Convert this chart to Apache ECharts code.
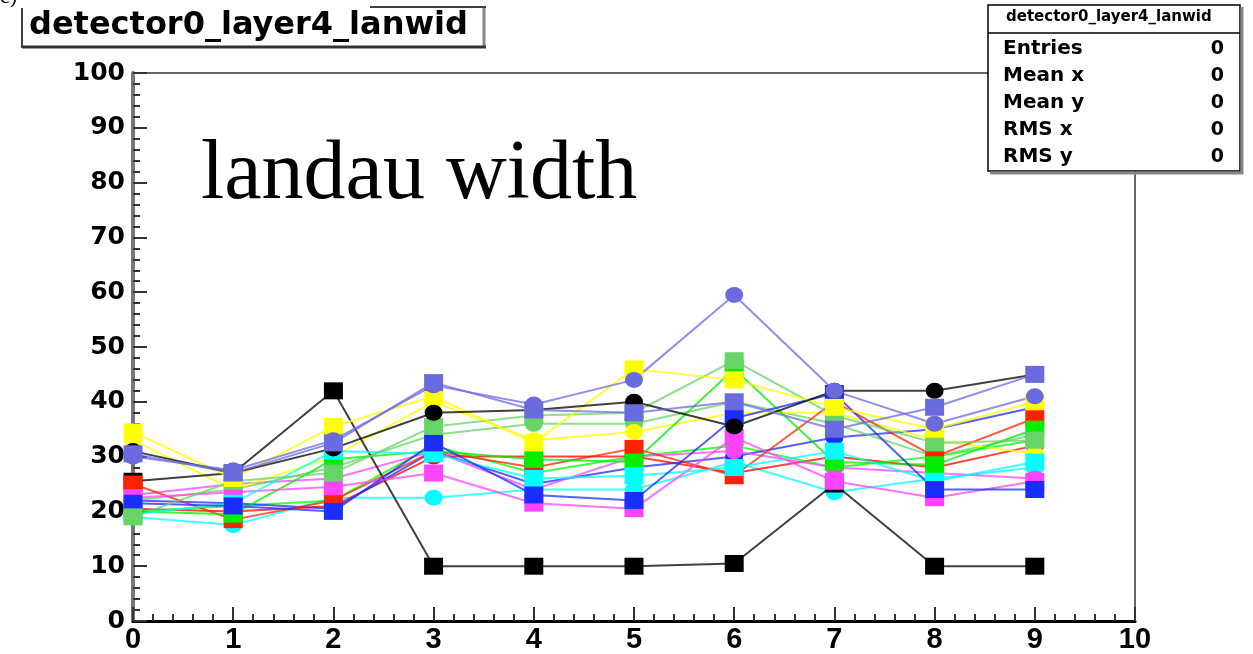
<!DOCTYPE html>
<html>
<head>
<meta charset="utf-8">
<script src="https://cdn.jsdelivr.net/npm/echarts@6/dist/echarts.min.js"></script>
<style>
html,body{margin:0;padding:0;background:#fff;}
#chart{width:1253px;height:654px;}
</style>
</head>
<body>
<div id="chart"></div>
<script>
// ---- data ----
const xValues = [0, 1, 2, 3, 4, 5, 6, 7, 8, 9];
const blackSquare   = [25.5, 27, 42, 10, 10, 10, 10.5, 25, 10, 10];
const blackCircle   = [31, 27, 31.5, 38, 38.5, 40, 35.5, 42, 42, 45];
const redSquare     = [25, 18.5, 22, 31, 28, 31.5, 26.5, 40, 30, 37];
const redCircle     = [20.5, 20, 21, 30, 30, 30, 27, 30, 28, 32];
const greenSquare   = [20, 19.5, 29.5, 31, 29.5, 29, 46, 29, 28.5, 35];
const greenCircle   = [20, 21, 22, 32, 27, 30, 32, 28, 30, 33];
const blueSquare    = [21.5, 21, 20, 32.5, 23, 22, 37, 41.5, 24, 24];
const blueCircle    = [22, 21.5, 20.5, 31, 25, 28, 30, 33.5, 35, 39];
const yellowSquare  = [34.5, 26, 35.5, 41, 32.5, 46, 44, 39, 35, 40];
const yellowCircle  = [33, 24, 30, 40, 33, 34.5, 38, 38, 33, 30.5];
const magentaSquare = [22.5, 23.5, 24.5, 27, 21.5, 20.5, 33.5, 25.5, 22.5, 25.5];
const magentaCircle = [23, 25, 26, 31, 24, 30, 31, 28, 27, 26];
const cyanSquare    = [19.5, 21.5, 31, 30.5, 26, 26.5, 28, 31, 25.5, 29];
const cyanCircle    = [19, 17.5, 22.5, 22.5, 24, 24, 29, 23.5, 26, 28];
const lgreenSquare  = [19, 25.5, 27, 35.5, 37.5, 38, 47.5, 37.5, 32.5, 33];
const lgreenCircle  = [22, 24, 28, 34, 36, 36, 40, 36, 30, 34];
const purpleSquare  = [30.5, 27, 32.5, 43.5, 38.5, 38, 40, 35, 39, 45];
const purpleCircle  = [30, 27.5, 33, 43, 39.5, 44, 59.5, 42, 36, 41];
const yTicks = [0, 10, 20, 30, 40, 50, 60, 70, 80, 90, 100];
const xTicks = [0, 1, 2, 3, 4, 5, 6, 7, 8, 9, 10];
const statsLabels = ['Entries', 'Mean x', 'Mean y', 'RMS x', 'RMS y'];
const statsValues = ['0', '0', '0', '0', '0'];
const histName = 'detector0_layer4_lanwid';
const bigLabel = 'landau width';

// ---- styling ----
const seriesDefs = [
  ['cyan circle', cyanCircle, '#00ffff', 'circle'],
  ['red circle', redCircle, '#ff0000', 'circle'],
  ['green circle', greenCircle, '#00ff00', 'circle'],
  ['blue circle', blueCircle, '#1a2eff', 'circle'],
  ['magenta circle', magentaCircle, '#ff44ff', 'circle'],
  ['lgreen circle', lgreenCircle, '#66d466', 'circle'],
  ['yellow circle', yellowCircle, '#ffff00', 'circle'],
  ['black square', blackSquare, '#000000', 'rect'],
  ['red square', redSquare, '#ff2200', 'rect'],
  ['green square', greenSquare, '#00ee00', 'rect'],
  ['magenta square', magentaSquare, '#ff44ff', 'rect'],
  ['cyan square', cyanSquare, '#00ffff', 'rect'],
  ['blue square', blueSquare, '#1a2eff', 'rect'],
  ['lgreen square', lgreenSquare, '#66d466', 'rect'],
  ['yellow square', yellowSquare, '#ffff00', 'rect'],
  ['black circle', blackCircle, '#000000', 'circle'],
  ['purple square', purpleSquare, '#6b6be0', 'rect'],
  ['purple circle', purpleCircle, '#6b6be0', 'circle']
];

const series = seriesDefs.map(([name, vals, color, sym]) => ({
  name: name,
  type: 'line',
  data: xValues.map((x, i) => [x, vals[i]]),
  symbol: sym,
  symbolSize: sym === 'rect' ? [19, 17] : [18, 16],
  showSymbol: true,
  itemStyle: { color: color, opacity: 1 },
  lineStyle: { color: color, width: 2, opacity: 0.75 },
  animation: false,
  z: 2
}));

const chart = echarts.init(document.getElementById('chart'), null, { renderer: 'canvas' });

const statsGraphics = [];
statsLabels.forEach((lab, i) => {
  statsGraphics.push({
    type: 'text', left: 1003, top: 39 + i * 27,
    style: { text: lab, font: 'bold 20px "DejaVu Sans"', fill: '#000' }, z: 10
  });
  statsGraphics.push({
    type: 'text', right: 1253 - 1224, top: 40 + i * 27,
    style: { text: statsValues[i], font: 'bold 19px "DejaVu Sans"', fill: '#000' }, z: 10
  });
});

chart.setOption({
  backgroundColor: '#ffffff',
  animation: false,
  grid: { left: 133, right: 118, top: 73, bottom: 31, containLabel: false,
          show: true, borderColor: '#666', borderWidth: 2, backgroundColor: 'transparent' },
  xAxis: {
    type: 'value', min: 0, max: 10, interval: 1,
    axisLine: { show: true, onZero: false, lineStyle: { color: '#000', width: 3 } },
    axisTick: { show: true, inside: true, length: 14, lineStyle: { color: '#333', width: 2 } },
    minorTick: { show: true, splitNumber: 5, length: 7, lineStyle: { color: '#333', width: 2 } },
    splitLine: { show: false },
    axisLabel: { show: true, margin: 4, color: '#000', fontFamily: 'Liberation Sans Narrow, Liberation Sans', fontWeight: 'bold', fontSize: 29,
                 formatter: v => String(v) }
  },
  yAxis: {
    type: 'value', min: 0, max: 100, interval: 10,
    axisLine: { show: true, onZero: false, lineStyle: { color: '#777', width: 4 } },
    axisTick: { show: true, inside: true, length: 14, lineStyle: { color: '#333', width: 2 } },
    minorTick: { show: true, splitNumber: 5, length: 7, lineStyle: { color: '#333', width: 2 } },
    splitLine: { show: false },
    axisLabel: { show: true, margin: 8, color: '#000', fontFamily: 'DejaVu Sans', fontWeight: 'bold', fontSize: 25,
                 formatter: v => String(v) }
  },
  series: series,
  graphic: [
    { type: 'text', left: 0, top: -14, style: { text: 'c)', font: '22px "Liberation Serif"', fill: '#000' } },
    // title box
    { type: 'line', shape: { x1: 22, y1: 8, x2: 22, y2: 48 }, style: { stroke: '#000', lineWidth: 1.5 }, z: 10 },
    { type: 'line', shape: { x1: 370, y1: 7, x2: 486, y2: 7 }, style: { stroke: '#000', lineWidth: 1.5 }, z: 10 },
    { type: 'line', shape: { x1: 484, y1: 8, x2: 484, y2: 48 }, style: { stroke: '#888', lineWidth: 3 }, z: 10 },
    { type: 'line', shape: { x1: 22, y1: 47, x2: 486, y2: 47 }, style: { stroke: '#333', lineWidth: 3 }, z: 10 },
    { type: 'text', left: 29, top: 10, style: { text: histName, font: 'bold 32px "DejaVu Sans"', fill: '#000' }, z: 10 },
    // stats box
    { type: 'rect', shape: { x: 988, y: 5, width: 252, height: 166 }, style: { fill: '#fff', stroke: '#000', lineWidth: 1.5 }, z: 9 },
    { type: 'line', shape: { x1: 990, y1: 173, x2: 1243, y2: 173 }, style: { stroke: '#888', lineWidth: 3 }, z: 10 },
    { type: 'line', shape: { x1: 1242, y1: 7, x2: 1242, y2: 174 }, style: { stroke: '#888', lineWidth: 3 }, z: 10 },
    { type: 'line', shape: { x1: 988, y1: 33, x2: 1240, y2: 33 }, style: { stroke: '#000', lineWidth: 1.5 }, z: 10 },
    { type: 'text', left: 1006, top: 10, style: { text: histName, font: 'bold 15px "DejaVu Sans"', fill: '#000' }, z: 10 },
    ...statsGraphics,
    // big label
    { type: 'text', left: 201, top: 134, style: { text: bigLabel, font: '84px "Liberation Serif"', fill: '#000' }, z: 10 }
  ]
});
</script>
</body>
</html>
